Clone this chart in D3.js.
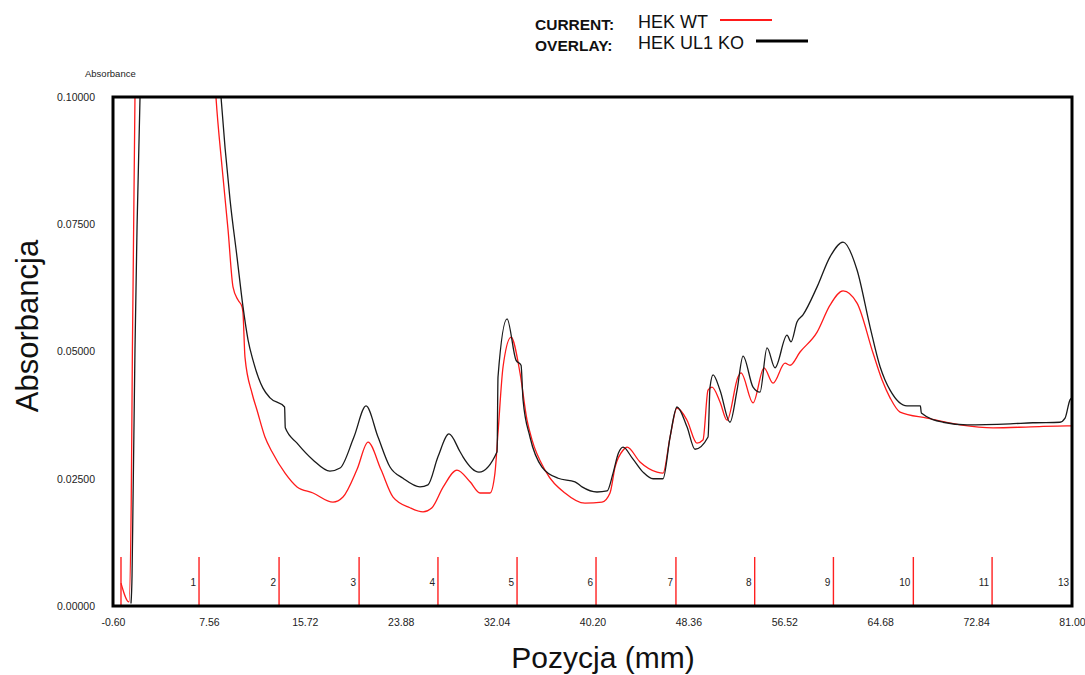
<!DOCTYPE html>
<html>
<head>
<meta charset="utf-8">
<script src="https://cdn.jsdelivr.net/npm/d3@7"></script>
<style>
  body { margin: 0; background: #fff; }
  text { font-family: "Liberation Sans", Arial, sans-serif; }
</style>
</head>
<body>
<div class="chart"></div>
<script>
const w = 1085;
const h = 675;
const margin = { top: 97, right: 13, bottom: 69, left: 113 };

// x axis labels (mm) and y axis ticks (absorbance)
const xTicks = [-0.6, 7.56, 15.72, 23.88, 32.04, 40.2, 48.36, 56.52, 64.68, 72.84, 81.0];
const yTicks = [0, 0.025, 0.05, 0.075, 0.1];

// fraction markers
const fractionPos = [0.08, 6.72, 13.53, 20.34, 27.05, 33.78, 40.5, 47.3, 54.0, 60.7, 67.5, 74.2, 81.0];
const fractionLabels = ['', '1', '2', '3', '4', '5', '6', '7', '8', '9', '10', '11', '13'];

// HEK WT (current), [position mm, absorbance]
const wtTrace = [
  [0.08, 0.0045], [0.76, 0.0008], [0.95, 0.02], [1.05, 0.05], [1.27, 0.1], [1.5, 0.115],
  [7.9, 0.11], [8.16, 0.1], [8.68, 0.0862], [9.19, 0.0739], [9.61, 0.0627], [10.04, 0.0601],
  [10.38, 0.0588], [10.46, 0.0576], [10.63, 0.0489], [11.23, 0.0418], [11.65, 0.0385],
  [12.33, 0.0332], [12.93, 0.0303], [14.04, 0.0261], [15.06, 0.0234], [16.42, 0.0222],
  [18.12, 0.0204], [18.97, 0.0214], [20.16, 0.0268], [21.1, 0.0322], [22.2, 0.0268],
  [23.23, 0.0214], [24.67, 0.0193], [25.78, 0.0185], [26.54, 0.0193], [27.5, 0.0234],
  [28.67, 0.0267], [29.78, 0.0244], [30.63, 0.0222], [31.48, 0.0222], [31.9, 0.0261],
  [32.16, 0.034], [32.59, 0.047], [33.27, 0.0528], [34.03, 0.0458], [34.63, 0.0365],
  [35.06, 0.0326], [36.16, 0.0267], [37.86, 0.0222], [39.56, 0.0202], [41.01, 0.0204],
  [41.69, 0.0222], [42.12, 0.0273], [42.8, 0.0306], [43.14, 0.0312], [44.24, 0.0283],
  [45.69, 0.0263], [46.2, 0.0261], [46.8, 0.0332], [47.39, 0.0389], [48.24, 0.0365],
  [49.09, 0.032], [49.6, 0.0326], [50.03, 0.0424], [50.37, 0.043], [51.05, 0.0401],
  [51.65, 0.0365], [52.58, 0.045], [52.84, 0.0458], [53.86, 0.0399], [54.79, 0.0468],
  [55.56, 0.0438], [56.58, 0.0477], [57.01, 0.0473], [57.86, 0.0499], [59.31, 0.0538],
  [60.41, 0.0591], [61.52, 0.0619], [62.71, 0.0595], [64.07, 0.0497], [64.84, 0.0444],
  [65.52, 0.0409], [66.37, 0.0381], [68.66, 0.0369], [71.47, 0.0356], [74.28, 0.035],
  [77.5, 0.0352], [80.58, 0.0354], [81.0, 0.0354]
];

// HEK UL1 KO (overlay)
const koTrace = [
  [0.93, 0.0005], [1.02, 0.006], [1.1, 0.02], [1.19, 0.036], [1.27, 0.0503], [1.45, 0.075],
  [1.7, 0.1], [1.9, 0.115], [8.3, 0.11], [8.59, 0.1], [9.36, 0.0798], [9.95, 0.0686],
  [10.46, 0.0588], [10.89, 0.0523], [11.31, 0.0483], [12.16, 0.0428], [12.76, 0.0409],
  [14.0, 0.0391], [14.06, 0.035], [15.06, 0.032], [16.42, 0.0287], [17.86, 0.0265],
  [18.72, 0.0271], [19.9, 0.0332], [20.93, 0.0393], [21.95, 0.0332], [22.97, 0.0273],
  [24.08, 0.0251], [25.52, 0.0234], [26.2, 0.0238], [27.05, 0.0293], [27.99, 0.0338],
  [28.93, 0.0303], [29.18, 0.0293], [30.54, 0.0263], [32.08, 0.0303], [32.16, 0.045],
  [32.93, 0.0564], [33.69, 0.0483], [34.12, 0.0473], [34.29, 0.0405], [34.88, 0.0332],
  [35.9, 0.0273], [37.27, 0.0251], [38.71, 0.0244], [39.31, 0.0234], [40.58, 0.0224],
  [41.44, 0.0226], [41.95, 0.0261], [42.4, 0.03], [42.8, 0.0312], [43.6, 0.029],
  [44.5, 0.0263], [45.35, 0.025], [46.2, 0.025], [46.8, 0.0332], [47.39, 0.0391],
  [48.24, 0.0352], [48.92, 0.0308], [50.03, 0.0332], [50.2, 0.043], [50.46, 0.0454],
  [51.05, 0.0424], [51.9, 0.0361], [52.5, 0.0424], [53.01, 0.0491], [53.86, 0.043],
  [54.45, 0.042], [55.05, 0.0507], [55.73, 0.0468], [56.75, 0.0532], [57.09, 0.0519],
  [57.6, 0.0558], [58.11, 0.0572], [59.31, 0.0627], [60.41, 0.0686], [61.52, 0.0715],
  [62.71, 0.066], [63.82, 0.0548], [64.67, 0.047], [65.09, 0.0444], [65.52, 0.0424],
  [66.96, 0.0393], [68.1, 0.0393], [68.18, 0.0379], [70.03, 0.0361], [72.07, 0.0356],
  [75.73, 0.0358], [77.68, 0.036], [79.98, 0.0361], [80.41, 0.0369], [80.83, 0.0405],
  [81.0, 0.0409]
];

const svg = d3
  .select('.chart')
  .append('svg')
  .attr('width', w)
  .attr('height', h);

const x0 = margin.left;
const x1 = w - margin.right;
const y0 = h - margin.bottom;
const y1 = margin.top;

const xScale = d3.scaleLinear().domain([-0.6, 81]).range([x0, x1]);
const yScale = d3.scaleLinear().domain([0, 0.1]).range([y0, y1]);

svg.append('clipPath')
  .attr('id', 'plot-clip')
  .append('rect')
  .attr('x', x0)
  .attr('y', y1)
  .attr('width', x1 - x0)
  .attr('height', y0 - y1);

// fraction markers
const markers = svg.append('g');
markers.selectAll('line')
  .data(fractionPos)
  .enter()
  .append('line')
  .attr('x1', (d) => xScale(d))
  .attr('x2', (d) => xScale(d))
  .attr('y1', y0)
  .attr('y2', y0 - 49)
  .attr('stroke', '#ff2020')
  .attr('stroke-width', 1.4);
markers.selectAll('text')
  .data(fractionPos)
  .enter()
  .append('text')
  .attr('x', (d) => xScale(d) - 3)
  .attr('y', y0 - 24)
  .attr('dy', '0.35em')
  .attr('text-anchor', 'end')
  .attr('font-size', 10)
  .attr('fill', '#222')
  .text((d, i) => fractionLabels[i]);

// traces
const line = d3.line()
  .x((d) => xScale(d[0]))
  .y((d) => yScale(d[1]))
  .curve(d3.curveMonotoneX);

const traces = svg.append('g').attr('clip-path', 'url(#plot-clip)');
traces.append('path')
  .datum(wtTrace)
  .attr('d', line)
  .attr('fill', 'none')
  .attr('stroke', '#ff1a1a')
  .attr('stroke-width', 1.3);
traces.append('path')
  .datum(koTrace)
  .attr('d', line)
  .attr('fill', 'none')
  .attr('stroke', '#1a1a1a')
  .attr('stroke-width', 1.3);

// frame
svg.append('rect')
  .attr('x', x0)
  .attr('y', y1)
  .attr('width', x1 - x0)
  .attr('height', y0 - y1)
  .attr('fill', 'none')
  .attr('stroke', '#000')
  .attr('stroke-width', 3);

// Bottom axis (labels only)
const fmt2 = d3.format('.2f');
const xAxis = d3.axisBottom(xScale)
  .tickValues(xTicks)
  .tickSize(0)
  .tickPadding(13)
  .tickFormat((d) => fmt2(d).replace('\u2212', '-'));
svg.append('g')
  .attr('transform', `translate(0,${y0})`)
  .call(xAxis)
  .call((g) => g.select('.domain').remove())
  .selectAll('text')
  .attr('font-family', '"Liberation Sans", Arial, sans-serif')
  .attr('font-size', 10.5)
  .attr('fill', '#222');

// Left axis (labels only)
const yAxis = d3.axisLeft(yScale)
  .tickValues(yTicks)
  .tickSize(0)
  .tickPadding(18)
  .tickFormat(d3.format('.5f'));
svg.append('g')
  .attr('transform', `translate(${x0},0)`)
  .call(yAxis)
  .call((g) => g.select('.domain').remove())
  .selectAll('text')
  .attr('font-family', '"Liberation Sans", Arial, sans-serif')
  .attr('font-size', 10.5)
  .attr('fill', '#222');

// small unit label
svg.append('text')
  .attr('x', 85)
  .attr('y', 77)
  .attr('font-size', 9.5)
  .attr('fill', '#222')
  .text('Absorbance');

// axis titles
svg.append('text')
  .attr('x', 603)
  .attr('y', 668)
  .attr('text-anchor', 'middle')
  .attr('font-size', 30)
  .attr('fill', '#111')
  .text('Pozycja (mm)');
svg.append('text')
  .attr('transform', 'translate(38,326) rotate(-90)')
  .attr('text-anchor', 'middle')
  .attr('font-size', 31)
  .attr('fill', '#111')
  .text('Absorbancja');

// legend
const legend = [
  { key: 'CURRENT:', name: 'HEK WT', color: '#ff1a1a', lx: 720, lw: 2 },
  { key: 'OVERLAY:', name: 'HEK UL1 KO', color: '#000', lx: 756, lw: 3 }
];
const lg = svg.append('g');
legend.forEach((d, i) => {
  const y = 30 + i * 21;
  lg.append('text')
    .attr('x', 535)
    .attr('y', y)
    .attr('font-size', 15.5)
    .attr('font-weight', 'bold')
    .attr('fill', '#111')
    .text(d.key);
  lg.append('text')
    .attr('x', 638)
    .attr('y', y - 2)
    .attr('font-size', 18)
    .attr('fill', '#111')
    .text(d.name);
  lg.append('line')
    .attr('x1', d.lx)
    .attr('x2', d.lx + 52)
    .attr('y1', y - 10)
    .attr('y2', y - 10)
    .attr('stroke', d.color)
    .attr('stroke-width', d.lw);
});
</script>
</body>
</html>
